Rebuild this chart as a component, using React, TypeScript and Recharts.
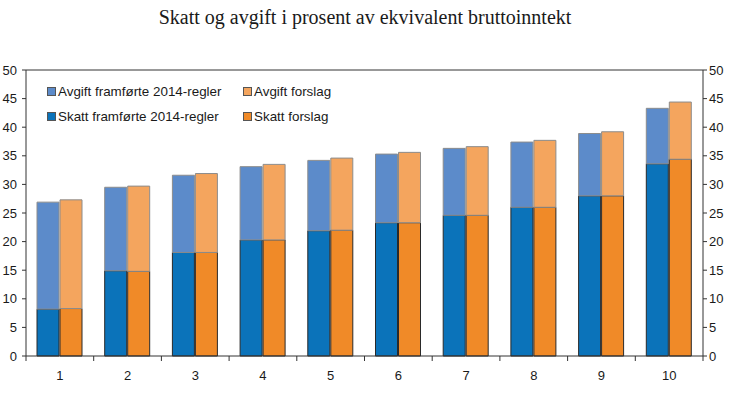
import { BarChart, Bar, Line, XAxis, YAxis, ReferenceLine } from 'recharts';

const CATEGORIES = ['1', '2', '3', '4', '5', '6', '7', '8', '9', '10'];
// skatt og total (skatt + avgift), lest av figuren
const SKATT_2014 = [8.2, 14.9, 18.1, 20.3, 21.9, 23.3, 24.6, 26.0, 28.0, 33.6];
const TOTAL_2014 = [26.9, 29.5, 31.6, 33.1, 34.2, 35.3, 36.3, 37.4, 38.9, 43.3];
const SKATT_FORSLAG = [8.3, 14.8, 18.1, 20.3, 22.0, 23.3, 24.6, 26.0, 28.0, 34.4];
const TOTAL_FORSLAG = [27.3, 29.7, 31.9, 33.5, 34.6, 35.6, 36.6, 37.7, 39.2, 44.4];
const Y_TICKS = [0, 5, 10, 15, 20, 25, 30, 35, 40, 45, 50];

const TITLE = 'Skatt og avgift i prosent av ekvivalent bruttoinntekt';

const SERIES = [
  { key: 'skatt2014', name: 'Skatt framførte 2014-regler', fill: '#0B73BA', stroke: '#2a2a2a', stack: 'a' },
  { key: 'avgift2014', name: 'Avgift framførte 2014-regler', fill: '#5C8BCA', stroke: '#8c8c8c', stack: 'a' },
  { key: 'skattForslag', name: 'Skatt forslag', fill: '#F08A28', stroke: '#2a2a2a', stack: 'b' },
  { key: 'avgiftForslag', name: 'Avgift forslag', fill: '#F4A55E', stroke: '#8c8c8c', stack: 'b' },
];

const data = CATEGORIES.map((c, i) => ({
  cat: c,
  skatt2014: SKATT_2014[i],
  avgift2014: +(TOTAL_2014[i] - SKATT_2014[i]).toFixed(2),
  skattForslag: SKATT_FORSLAG[i],
  avgiftForslag: +(TOTAL_FORSLAG[i] - SKATT_FORSLAG[i]).toFixed(2),
}));

const W = 730;
const H = 396;
const MARGIN = { top: 70, right: 0, bottom: 10, left: 0 };
const Y_LEFT_W = 26;
const Y_RIGHT_W = 27;
const PLOT_W = W - MARGIN.left - MARGIN.right - Y_LEFT_W - Y_RIGHT_W;

const AXIS_FONT = { fontFamily: 'Liberation Sans, Arial, sans-serif', fontSize: 13, fill: '#1a1a1a' };

// x-aksen har tikkstreker mellom kategoriene, ikke midt under dem
const CatTick = (props: any) => {
  const { x, y, payload, index } = props;
  const w = typeof props.width === 'number' && props.width > 100 ? props.width : PLOT_W;
  const band = w / CATEGORIES.length;
  const left = x - band / 2;
  const last = index === CATEGORIES.length - 1;
  return (
    <g>
      <line x1={left} x2={left} y1={y} y2={y + 5} stroke="#333" />
      {last && <line x1={x + band / 2} x2={x + band / 2} y1={y} y2={y + 5} stroke="#333" />}
      <text x={x} y={y + 24} textAnchor="middle" {...AXIS_FONT}>
        {payload.value}
      </text>
    </g>
  );
};

const LEGEND_ROWS = [
  ['avgift2014', 'avgiftForslag'],
  ['skatt2014', 'skattForslag'],
];

export default function App() {
  return (
    <div style={{ position: 'absolute', left: 0, top: 0, width: W, height: H, background: '#fff' }}>
      <div
        style={{
          position: 'absolute',
          top: 6,
          width: W,
          textAlign: 'center',
          fontFamily: 'Liberation Serif, Times New Roman, serif',
          fontSize: 20,
          color: '#1a1a1a',
        }}
      >
        {TITLE}
      </div>
      <BarChart width={W} height={H} data={data} margin={MARGIN} barSize={22} barGap={1}>
        <XAxis
          dataKey="cat"
          height={30}
          tickLine={false}
          tickSize={0}
          tickMargin={0}
          axisLine={{ stroke: '#333' }}
          tick={<CatTick />}
          interval={0}
        />
        <YAxis
          yAxisId="left"
          orientation="left"
          width={Y_LEFT_W}
          domain={[0, 50]}
          ticks={Y_TICKS}
          tickSize={4}
          tickMargin={5}
          axisLine={{ stroke: '#333' }}
          tickLine={{ stroke: '#333' }}
          tick={AXIS_FONT}
          interval={0}
        />
        <YAxis
          yAxisId="right"
          orientation="right"
          width={Y_RIGHT_W}
          domain={[0, 50]}
          ticks={Y_TICKS}
          tickSize={4}
          tickMargin={2}
          axisLine={{ stroke: '#333' }}
          tickLine={{ stroke: '#333' }}
          tick={AXIS_FONT}
          interval={0}
        />
        <ReferenceLine yAxisId="left" y={50} stroke="#333" />
        {SERIES.map((s) => (
          <Bar
            key={s.key}
            yAxisId="left"
            dataKey={s.key}
            name={s.name}
            stackId={s.stack}
            fill={s.fill}
            stroke={s.stroke}
            strokeWidth={1}
            isAnimationActive={false}
          />
        ))}
        {/* usynlig serie som bare holder høyre akse i live */}
        <Line
          yAxisId="right"
          dataKey="skatt2014"
          stroke="none"
          dot={false}
          activeDot={false}
          legendType="none"
          isAnimationActive={false}
        />
      </BarChart>
      <div style={{ position: 'absolute', left: 47, top: 79 }}>
        {LEGEND_ROWS.map((row, r) => (
          <div key={r} style={{ display: 'flex', height: 25, alignItems: 'center' }}>
            {row.map((k, c) => {
              const s = SERIES.find((x) => x.key === k)!;
              return (
                <div key={k} style={{ display: 'flex', alignItems: 'center', width: c === 0 ? 196 : 150 }}>
                  <span
                    style={{
                      width: 7,
                      height: 7,
                      background: s.fill,
                      border: '1px solid #555',
                      marginRight: 2,
                      display: 'inline-block',
                    }}
                  />
                  <span style={{ fontFamily: 'Liberation Sans, Arial, sans-serif', fontSize: 13.4, color: '#1a1a1a' }}>
                    {s.name}
                  </span>
                </div>
              );
            })}
          </div>
        ))}
      </div>
    </div>
  );
}
